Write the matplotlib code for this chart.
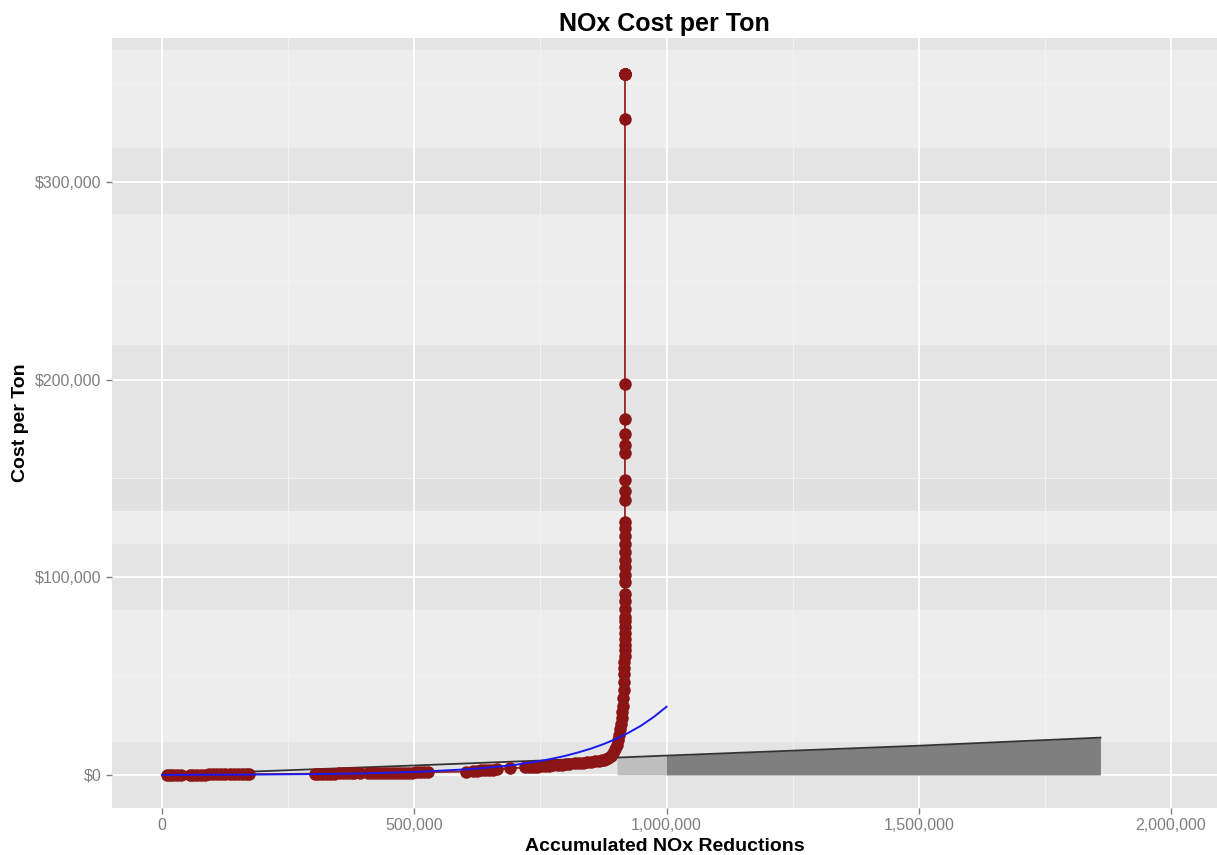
import numpy as np
from matplotlib import pyplot as plt
from matplotlib.ticker import FuncFormatter, MultipleLocator

plt.rcParams['font.family'] = ['Liberation Sans', 'DejaVu Sans']

# accumulated reductions (tons) and cost per ton ($)
red_x = [10e3, 16e3, 22e3, 30e3, 38e3, 55e3, 62e3, 70e3, 78e3, 86e3, 94e3, 102e3,
         110e3, 118e3, 126e3, 134e3, 142e3, 150e3, 158e3, 166e3, 172e3,
         303e3, 310e3, 318e3, 326e3, 334e3, 342e3, 350e3, 358e3, 366e3, 374e3, 380e3, 393e3,
         408e3, 416e3, 424e3, 432e3, 440e3, 448e3, 456e3, 464e3, 472e3, 480e3, 488e3,
         496e3, 504e3, 512e3, 520e3, 528e3,
         602e3, 617e3, 625e3, 633e3, 641e3, 649e3, 657e3, 664e3, 690e3,
         720e3, 728e3, 736e3, 744e3, 752e3, 760e3, 768e3, 776e3, 784e3, 792e3, 800e3, 807e3,
         818e3, 826e3, 834e3, 842e3, 850e3, 858e3, 866e3, 872e3, 876e3,
         880e3, 885e3, 890e3, 894e3, 898e3, 901e3, 904e3, 906e3, 908e3, 910e3, 911e3,
         912e3, 913e3, 914e3, 915e3, 915.5e3, 916e3, 916.3e3, 916.6e3, 916.8e3, 917e3,
         917e3, 917.2e3, 917.3e3, 917.4e3, 917.5e3, 917.5e3, 917.6e3, 917.6e3, 917.7e3,
         917.7e3, 917.7e3, 917.7e3, 917.7e3, 917.7e3, 917.7e3, 917.7e3, 917.7e3, 917.7e3,
         917.7e3, 917.7e3, 917.7e3, 917.7e3, 917.7e3, 917.7e3, 917.7e3, 917.7e3, 917.7e3,
         917.7e3, 917.7e3, 917.7e3, 917.7e3, 917.7e3]
red_y = [0, 50, 80, 100, 120, 150, 170, 190, 200, 220, 240, 250,
         270, 290, 300, 320, 340, 350, 370, 390, 400,
         600, 620, 650, 680, 700, 720, 750, 780, 800, 820, 850, 880,
         900, 920, 950, 980, 1000, 1030, 1060, 1100, 1130, 1160, 1200,
         1230, 1260, 1300, 1330, 1370,
         1700, 2000, 2150, 2300, 2450, 2600, 2750, 2900, 3300,
         3800, 3950, 4100, 4250, 4400, 4550, 4700, 4850, 5000, 5150, 5300, 5500,
         5900, 6100, 6300, 6500, 6700, 6900, 7200, 7500, 7800,
         8200, 8600, 9800, 11000, 13000, 15000, 17500, 20000, 23000, 26000, 29000,
         32000, 35000, 39000, 43000, 47000, 51000, 54000, 57000, 60000, 63000,
         66000, 69000, 72000, 75000, 78000, 80000, 84000, 88000, 91700,
         97600, 101000, 105000, 109000, 113000, 117000, 121000, 125000, 128000,
         139000, 143600, 149000, 163000, 167000, 172600, 180300, 198000, 331800,
         354800, 354800, 354800, 354800, 354800]

# fitted curve, read at a few positions
fit_x = [0, 100e3, 200e3, 300e3, 400e3, 500e3, 600e3, 650e3, 700e3, 750e3, 775e3,
         800e3, 825e3, 850e3, 875e3, 900e3, 925e3, 950e3, 975e3, 1000e3]
fit_y = [60, 120, 220, 420, 780, 1500, 2800, 3800, 5100, 7100, 8300,
         9700, 11400, 13300, 15600, 18200, 21400, 25000, 29400, 34500]

# cost line and shaded areas beneath it
line_x = [0, 500e3, 902e3, 1000e3, 1500e3, 1860e3]
line_y = [0, 4800, 8800, 9800, 14800, 18900]
light_x = [902e3, 1000e3]
light_y = [8800, 9800]
dark_x = [1000e3, 1500e3, 1860e3]
dark_y = [9800, 14800, 18900]

# darker horizontal background bands ($)
bands = [(367e3, 373e3), (283.8e3, 317.1e3), (133.5e3, 217.5e3),
         (83.5e3, 116.8e3), (-16.7e3, 16.7e3)]

fig = plt.figure(figsize=(12.17, 8.55), dpi=100)
ax = fig.add_axes([0.092, 0.055, 0.908, 0.9005])
ax.set_facecolor('#EDEDED')

for lo, hi in bands:
    ax.axhspan(lo, hi, color='#E4E4E4', lw=0, zorder=0.2)
ax.axhspan(133.5e3, 150.2e3, color='#E1E1E1', lw=0, zorder=0.25)

ax.set_axisbelow(True)
ax.xaxis.set_major_locator(MultipleLocator(500e3))
ax.xaxis.set_minor_locator(MultipleLocator(250e3))
ax.yaxis.set_major_locator(MultipleLocator(100e3))
ax.yaxis.set_minor_locator(MultipleLocator(50e3))
ax.grid(which='major', color='white', lw=1.3)
ax.grid(which='minor', color='#F4F4F4', lw=0.6)

ax.fill_between(light_x, 0, light_y, color='#BEBEBE', lw=0, zorder=1)
ax.fill_between(dark_x, 0, dark_y, color='#7F7F7F', lw=0, zorder=1)
ax.plot(line_x, line_y, color='#333333', lw=1.3, zorder=2)

ax.plot(red_x, red_y, color='#9B2323', lw=1.3, zorder=3)
ax.plot(red_x, red_y, 'o', color='#8B1414', ms=9, mec='none', zorder=3)
ax.plot(fit_x, fit_y, color='#1A1AF0', lw=1.4, zorder=4)

ax.set_xlim(-99e3, 2091e3)
ax.set_ylim(-16.7e3, 372.8e3)

ax.xaxis.set_major_formatter(FuncFormatter(lambda v, p: f'{v:,.0f}'))
ax.yaxis.set_major_formatter(FuncFormatter(lambda v, p: f'${v:,.0f}'))
ax.tick_params(which='major', length=4, width=1, color='#7F7F7F',
               labelcolor='#7F7F7F', labelsize=11.5)
ax.tick_params(which='minor', length=0)
for s in ax.spines.values():
    s.set_visible(False)

ax.set_title('NOx Cost per Ton', fontsize=18, fontweight='bold', pad=5)
ax.set_xlabel('Accumulated NOx Reductions', fontsize=14, fontweight='bold', labelpad=3)
ax.set_ylabel('Cost per Ton', fontsize=14, fontweight='bold', labelpad=4)

fig.savefig('out.png', dpi=100)
